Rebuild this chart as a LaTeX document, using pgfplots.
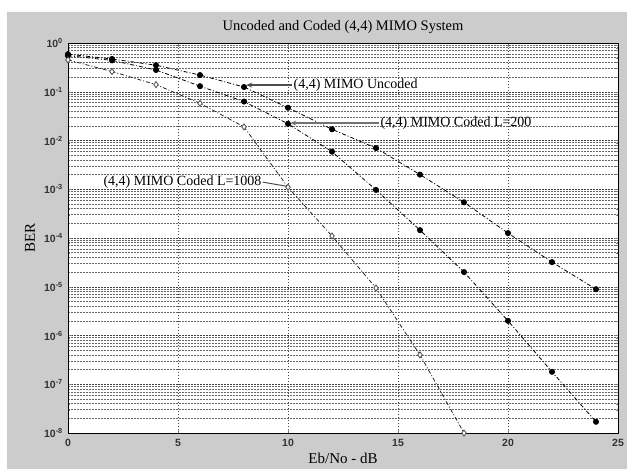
\documentclass[border=0pt]{standalone}
\usepackage{fontspec}
\setmainfont{Liberation Serif}
\setsansfont{Liberation Sans}
\usepackage{pgfplots}
\pgfplotsset{compat=1.18}
\usetikzlibrary{arrows.meta}
\definecolor{figgray}{RGB}{204,204,204}
\begin{document}
\begin{tikzpicture}
\path[use as bounding box] (0pt,0pt) rectangle (627pt,469pt);
\begin{axis}[
  at={(68pt,36pt)}, anchor=south west,
  scale only axis, width=550pt, height=390pt,
  xmin=0, xmax=25, ymin=1e-8, ymax=1,
  ymode=log,
  xtick={0,5,10,15,20,25},
  ytick={1e-8,1e-7,1e-6,1e-5,1e-4,1e-3,1e-2,1e-1,1},
  xticklabel={}, yticklabel={},
  tick align=inside,
  major tick length=4pt, minor tick length=2pt,
  xmajorgrids=true, ymajorgrids=true, yminorgrids=true,
  major grid style={black!75, dash pattern=on 1.5pt off 1.5pt, line width=0.5pt},
  minor grid style={black!60, dash pattern=on 1.5pt off 1.5pt, line width=0.5pt},
  axis line style={black, line width=0.7pt},
  clip=false,
  execute at begin axis={
    \fill[figgray, even odd rule] (rel axis cs:-0.1109,-0.0923) rectangle (rel axis cs:1.0164,1.0795)
      (rel axis cs:0,0) rectangle (rel axis cs:1,1);
  },
]
\addplot[black, line width=0.8pt, dash pattern=on 4pt off 2pt on 1pt off 2pt, mark=*, mark size=2.6pt, mark options={solid}]
  coordinates {(0,0.59) (2,0.47) (4,0.35) (6,0.22) (8,0.125) (10,0.047) (12,0.017) (14,0.007) (16,0.002) (18,5.4e-4) (20,1.26e-4) (22,3.2e-5) (24,8.9e-6)};
\addplot[black, line width=0.8pt, dash pattern=on 4pt off 2pt on 1pt off 2pt, mark=*, mark size=2.6pt, mark options={solid}]
  coordinates {(0,0.55) (2,0.44) (4,0.28) (6,0.13) (8,0.063) (10,0.022) (12,0.0059) (14,9.7e-4) (16,1.45e-4) (18,2e-5) (20,2e-6) (22,1.8e-7) (24,1.7e-8)};
\addplot[black!85, line width=0.8pt, dash pattern=on 4pt off 2pt on 1pt off 2pt, mark=diamond*, mark size=3pt, mark options={solid, fill=white, draw=black!70}]
  coordinates {(0,0.45) (2,0.26) (4,0.14) (6,0.058) (8,0.019) (10,1.1e-3) (12,1.1e-4) (14,9.4e-6) (16,4e-7) (18,1e-8)};
\draw[black, line width=0.7pt] (rel axis cs:0,0) rectangle (rel axis cs:1,1);
\tikzset{tl/.style={font=\sffamily\bfseries\fontsize{10.5}{12}\selectfont, text=black!80, inner sep=0pt}}
\node[tl, anchor=north] at (axis cs:0,1e-8) [yshift=-6pt] {0};
\node[tl, anchor=north] at (axis cs:5,1e-8) [yshift=-6pt] {5};
\node[tl, anchor=north] at (axis cs:10,1e-8) [yshift=-6pt] {10};
\node[tl, anchor=north] at (axis cs:15,1e-8) [yshift=-6pt] {15};
\node[tl, anchor=north] at (axis cs:20,1e-8) [yshift=-6pt] {20};
\node[tl, anchor=north] at (axis cs:25,1e-8) [yshift=-6pt] {25};
\node[tl, anchor=east] at (axis cs:0,1) [xshift=-5pt] {10\textsuperscript{0}};
\node[tl, anchor=east] at (axis cs:0,1e-1) [xshift=-5pt] {10\textsuperscript{-1}};
\node[tl, anchor=east] at (axis cs:0,1e-2) [xshift=-5pt] {10\textsuperscript{-2}};
\node[tl, anchor=east] at (axis cs:0,1e-3) [xshift=-5pt] {10\textsuperscript{-3}};
\node[tl, anchor=east] at (axis cs:0,1e-4) [xshift=-5pt] {10\textsuperscript{-4}};
\node[tl, anchor=east] at (axis cs:0,1e-5) [xshift=-5pt] {10\textsuperscript{-5}};
\node[tl, anchor=east] at (axis cs:0,1e-6) [xshift=-5pt] {10\textsuperscript{-6}};
\node[tl, anchor=east] at (axis cs:0,1e-7) [xshift=-5pt] {10\textsuperscript{-7}};
\node[tl, anchor=east] at (axis cs:0,1e-8) [xshift=-5pt] {10\textsuperscript{-8}};
\draw[black!70, line width=1.4pt, -{Stealth[length=6pt,width=5pt]}] (axis cs:10.2,0.137) -- (axis cs:8.1,0.137);
\node[anchor=west, inner sep=1pt, font=\fontsize{14}{16}\selectfont] at (axis cs:10.2,0.137) {(4,4) MIMO Uncoded};
\draw[black!55, line width=2pt, -{Stealth[length=6pt,width=5pt]}] (axis cs:14.15,0.0228) -- (axis cs:10.1,0.0228);
\node[anchor=west, inner sep=1pt, font=\fontsize{14}{16}\selectfont] at (axis cs:14.15,0.0228) {(4,4) MIMO Coded L=200};
\draw[black!70, line width=1pt] (axis cs:8.85,1.4e-3) -- (axis cs:9.95,1.15e-3);
\node[anchor=east, inner sep=1pt, font=\fontsize{14}{16}\selectfont] at (axis cs:8.85,1.4e-3) {(4,4) MIMO Coded L=1008};
\node[anchor=center, font=\fontsize{14.5}{16}\selectfont] at (rel axis cs:0.5,1.041) {Uncoded and Coded (4,4) MIMO System};
\node[anchor=center, font=\fontsize{15}{17}\selectfont] at (rel axis cs:0.5,-0.064) {Eb/No - dB};
\node[anchor=center, rotate=90, font=\fontsize{15}{17}\selectfont] at (rel axis cs:-0.069,0.5) {BER};
\end{axis}
\end{tikzpicture}
\end{document}
